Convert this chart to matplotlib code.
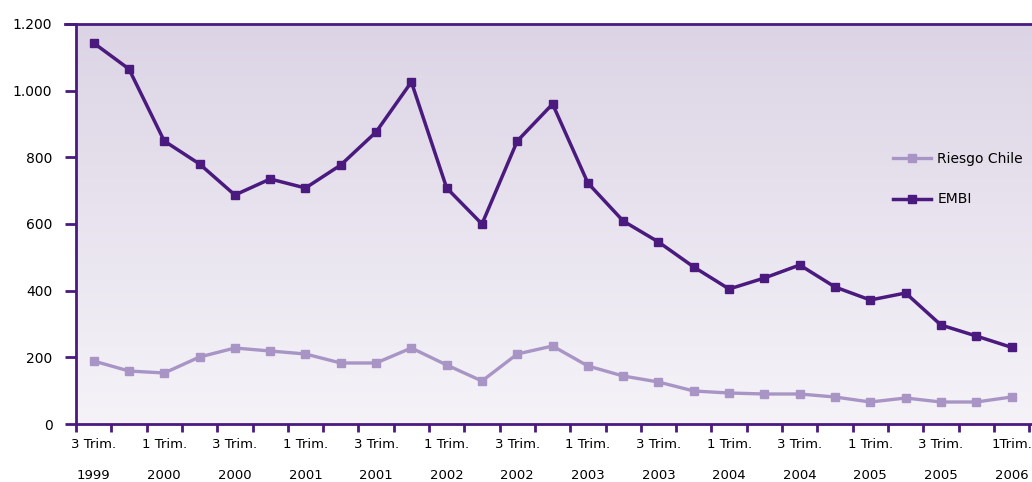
import numpy as np
import matplotlib.pyplot as plt
from matplotlib.colors import LinearSegmentedColormap

quarters = ['3 Trim.', '4 Trim.', '1 Trim.', '2 Trim.'] * 6 + ['3 Trim.', '4 Trim.', '1Trim.']
years = ['1999', '1999', '2000', '2000', '2000', '2000', '2001', '2001', '2001', '2001',
         '2002', '2002', '2002', '2002', '2003', '2003', '2003', '2003', '2004', '2004',
         '2004', '2004', '2005', '2005', '2005', '2005', '2006']
embi = [1143, 1065, 849, 780, 687, 735, 708, 777, 876, 1026, 708, 600, 849, 960,
        723, 609, 546, 471, 405, 438, 477, 411, 372, 393, 297, 264, 230]
riesgo_chile = [189, 159, 153, 201, 228, 219, 210, 183, 183, 228, 177, 129, 210, 234,
                174, 144, 126, 99, 93, 90, 90, 81, 66, 78, 66, 66, 81]

dark = '#4a1a7e'
light = '#a895c5'

fig = plt.figure(figsize=(10.32, 4.82), dpi=100)
ax = fig.add_axes([76 / 1032, 58 / 482, 956 / 1032, 400 / 482])

# soft lavender fade behind the lines
bg = LinearSegmentedColormap.from_list('bg', ['#f5f3f8', '#dcd4e5'])
ax.imshow(np.linspace(0, 1, 256).reshape(-1, 1), cmap=bg, aspect='auto',
          extent=[0, 1, 0, 1], transform=ax.transAxes, origin='lower', zorder=0)

x = np.arange(len(embi))
ax.plot(x, riesgo_chile, color=light, lw=2.4, marker='s', ms=5.5, label='Riesgo Chile', zorder=3)
ax.plot(x, embi, color=dark, lw=2.5, marker='s', ms=5.5, label='EMBI', zorder=4)

ax.set_xlim(-0.5, len(x) - 0.42)
ax.set_ylim(0, 1200)
ax.set_yticks(range(0, 1201, 200))
ax.set_yticklabels([f'{v:,}'.replace(',', '.') for v in range(0, 1201, 200)])

# tick marks on the quarter boundaries, labels every other quarter
ax.set_xticks(np.arange(-0.5, len(x), 1.0))
ax.set_xticklabels([])
ax.set_xticks(x[::2], minor=True)
ax.set_xticklabels([f'{quarters[i]}\n{years[i]}' for i in x[::2]], minor=True,
                   linespacing=2.8)
ax.tick_params(axis='x', which='major', length=6, width=2, color=dark, direction='out')
ax.tick_params(axis='x', which='minor', length=0, pad=10, labelsize=9.5)
ax.tick_params(axis='y', length=8, width=2, color=dark, pad=9, labelsize=10)

for side in ['left', 'bottom', 'top']:
    ax.spines[side].set_color(dark)
    ax.spines[side].set_linewidth(2)
ax.spines['right'].set_visible(False)
ax.spines['top'].set_bounds(-0.5 - 11 / 35.3, len(x))
ax.spines['top'].set_zorder(5)

ax.legend(loc='upper left', bbox_to_anchor=(893 / 1032, (482 - 152) / 482),
          bbox_transform=fig.transFigure, frameon=False, borderpad=0, borderaxespad=0,
          handlelength=2.7, handletextpad=0.5, labelspacing=1.9, fontsize=10)

fig.savefig('out.png', dpi=100)
